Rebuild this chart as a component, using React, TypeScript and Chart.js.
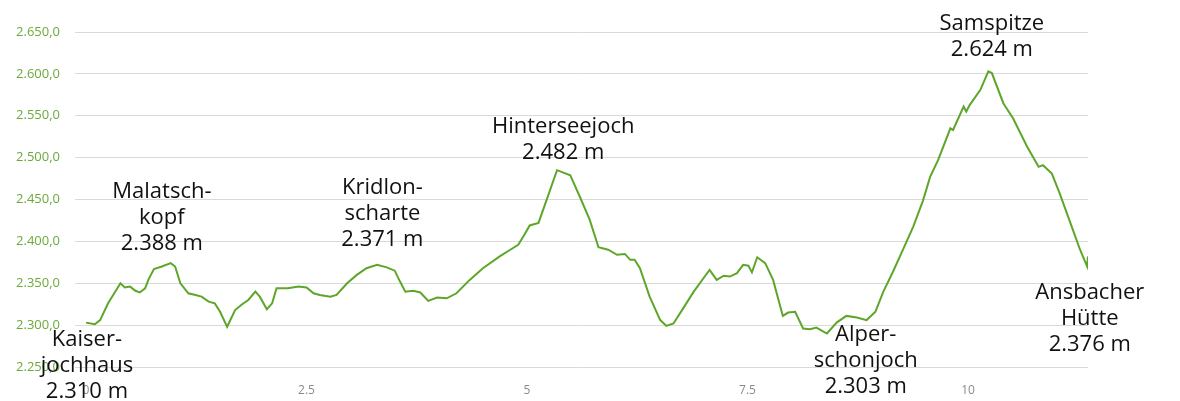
import React, { useEffect, useRef } from 'react';
import { Chart, registerables } from 'chart.js';

Chart.register(...registerables);

// distance along the route (km)
const distances = [
    0.0, 0.10, 0.16, 0.25, 0.39, 0.44, 0.50, 0.56, 0.61, 0.67, 0.71, 0.77, 0.86, 0.96, 1.01,
    1.07, 1.16, 1.24, 1.31, 1.39, 1.46, 1.52, 1.60, 1.69, 1.77, 1.84, 1.92, 1.97, 2.05, 2.11,
    2.16, 2.29, 2.41, 2.50, 2.58, 2.65, 2.77, 2.84, 2.96, 3.07, 3.18, 3.30, 3.41, 3.50, 3.56,
    3.62, 3.71, 3.79, 3.88, 3.98, 4.09, 4.20, 4.35, 4.50, 4.69, 4.81, 4.90, 4.96, 5.03, 5.13,
    5.22, 5.34, 5.49, 5.60, 5.71, 5.81, 5.92, 6.02, 6.11, 6.17, 6.22, 6.28, 6.39, 6.51, 6.58,
    6.66, 6.77, 6.89, 7.00, 7.07, 7.15, 7.23, 7.30, 7.38, 7.45, 7.51, 7.55, 7.61, 7.70, 7.79,
    7.90, 7.96, 8.04, 8.13, 8.21, 8.28, 8.40, 8.51, 8.62, 8.74, 8.85, 8.95, 9.04, 9.15, 9.27,
    9.38, 9.49, 9.57, 9.66, 9.80, 9.83, 9.95, 9.98, 10.02, 10.14, 10.23, 10.27, 10.40, 10.51,
    10.67, 10.80, 10.85, 10.95, 11.04, 11.16, 11.27, 11.35, 11.36
];

// elevation (m)
const elevations = [
    2303, 2301, 2306, 2326, 2350, 2345, 2346, 2341, 2339, 2344, 2355, 2367, 2370, 2374, 2370,
    2350, 2338, 2336, 2334, 2328, 2326, 2316, 2298, 2318, 2325, 2330, 2340, 2334, 2319, 2326,
    2344, 2344, 2346, 2345, 2338, 2336, 2334, 2336, 2350, 2360, 2368, 2372, 2369, 2365, 2352,
    2340, 2341, 2339, 2329, 2333, 2332, 2338, 2354, 2368, 2382, 2390, 2396, 2406, 2419, 2422,
    2449, 2485, 2479, 2453, 2426, 2393, 2390, 2384, 2385, 2378, 2378, 2368, 2334, 2306, 2299,
    2302, 2320, 2340, 2356, 2366, 2354, 2359, 2358, 2362, 2372, 2371, 2363, 2381, 2374, 2354,
    2311, 2315, 2316, 2296, 2295, 2297, 2290, 2303, 2311, 2309, 2306, 2316, 2340, 2364, 2392,
    2418, 2449, 2477, 2497, 2535, 2533, 2561, 2555, 2563, 2581, 2603, 2601, 2565, 2547,
    2513, 2489, 2491, 2481, 2457, 2422, 2390, 2370, 2382
];

const xTicks = [0, 2.5, 5, 7.5, 10];
const yMin = 2250;
const yMax = 2650;
const yStep = 50;

// waypoint labels: text lines, anchor distance (km), anchor elevation (m) of first line
const waypointNames = [
    ['Kaiser-', 'jochhaus', '2.310 m'],
    ['Malatsch-', 'kopf', '2.388 m'],
    ['Kridlon-', 'scharte', '2.371 m'],
    ['Hinterseejoch', '2.482 m'],
    ['Alper-', 'schonjoch', '2.303 m'],
    ['Samspitze', '2.624 m'],
    ['Ansbacher', 'Hütte', '2.376 m'],
];
const waypointKm = [0.01, 0.86, 3.36, 5.41, 8.84, 10.27, 11.38];
const waypointElev = [2282, 2459, 2464, 2537, 2288, 2660, 2339];

const formatElevation = (v: number) => {
    const [int, dec] = v.toFixed(1).split('.');
    return int.replace(/\B(?=(\d{3})+(?!\d))/g, '.') + ',' + dec;
};

const waypointPlugin = {
    id: 'waypoints',
    afterDraw(chart: any) {
        const ctx = chart.ctx;
        const xs = chart.scales.x;
        const ys = chart.scales.y;
        ctx.save();
        ctx.fillStyle = '#111';
        ctx.font = '22px "Open Sans", sans-serif';
        ctx.textAlign = 'center';
        ctx.textBaseline = 'middle';
        waypointNames.forEach((lines, i) => {
            const px = xs.getPixelForValue(waypointKm[i]);
            const py = ys.getPixelForValue(waypointElev[i]);
            lines.forEach((line, j) => ctx.fillText(line, px, py + j * 26));
        });
        ctx.restore();
    },
};

const ElevationChart = () => {
    const canvasRef = useRef<HTMLCanvasElement | null>(null);

    useEffect(() => {
        let chart: Chart<'line', any[], any> | null = null;
        const canvas = canvasRef.current;
        if (canvas) {
            const ctx = canvas.getContext('2d');
            if (ctx) {
                chart = new Chart(ctx, {
                    type: 'line',
                    data: {
                        datasets: [{
                            data: distances.map((d, i) => ({ x: d, y: elevations[i] })),
                            borderColor: '#5ea62a',
                            borderWidth: 2,
                            pointRadius: 0,
                            tension: 0,
                            fill: false,
                        }]
                    },
                    options: {
                        responsive: false,
                        animation: false,
                        layout: { padding: { top: 32, right: 92, left: 0, bottom: 0 } },
                        plugins: {
                            legend: { display: false },
                            tooltip: { enabled: false },
                        },
                        scales: {
                            x: {
                                type: 'linear',
                                min: -0.125,
                                max: 11.36,
                                grid: { display: false },
                                border: { display: false },
                                afterBuildTicks: (scale: any) => {
                                    scale.ticks = xTicks.map(v => ({ value: v }));
                                },
                                afterFit: (scale: any) => { scale.height = 34; },
                                ticks: {
                                    color: '#8a8a8a',
                                    padding: 8,
                                    font: { family: '"Open Sans", sans-serif', size: 12 },
                                    maxRotation: 0,
                                    callback: (v: any) => String(v),
                                },
                            },
                            y: {
                                min: yMin,
                                max: yMax,
                                grid: { color: '#dadada', drawTicks: false },
                                border: { display: false },
                                afterFit: (scale: any) => { scale.width = 75; },
                                ticks: {
                                    stepSize: yStep,
                                    color: '#6aaa3a',
                                    padding: 15,
                                    font: { family: '"Open Sans", sans-serif', size: 13 },
                                    callback: (v: any) => formatElevation(Number(v)),
                                },
                            },
                        },
                    },
                    plugins: [waypointPlugin],
                });
            }
        }
        return () => {
            if (chart) {
                chart.destroy();
            }
        };
    }, []);

    return <canvas ref={canvasRef} width={1180} height={401}></canvas>;
};

export default function App() {
    return (
        <div style={{ position: 'absolute', left: 0, top: 0, width: 1180, height: 401, background: '#fff' }}>
            <ElevationChart />
        </div>
    );
}
